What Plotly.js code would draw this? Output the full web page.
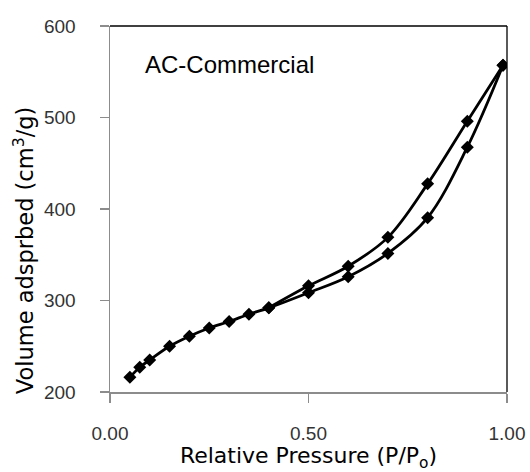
<!DOCTYPE html>
<html>
<head>
<meta charset="utf-8">
<script src="https://cdn.plot.ly/plotly-3.0.1.min.js"></script>
<style>html,body{margin:0;padding:0;background:#fff;}#chart{width:530px;height:472px;}</style>
</head>
<body>
<div id="chart"></div>
<script>
// Adsorption branch
const adsX = [0.05, 0.075, 0.1, 0.15, 0.2, 0.25, 0.3, 0.35, 0.4, 0.5, 0.6, 0.7, 0.8, 0.9, 0.99];
const adsY = [216, 227, 235, 250, 261, 270, 277, 285, 292, 308.5, 326, 351.5, 390.5, 467.5, 557];
// Desorption branch
const desX = [0.99, 0.9, 0.8, 0.7, 0.6, 0.5, 0.4];
const desY = [557, 496, 427.5, 369, 337.5, 316, 292];
const xTickVals = [0, 0.5, 1];
const xTickText = ["0.00", "0.50", "1.00"];
const yTickVals = [200, 300, 400, 500, 600];
const label = "AC-Commercial";
const yTitle = "Volume adsprbed (cm<sup>3</sup>/g)";
const xTitle = "Relative Pressure (P/P<sub>o</sub>)";

const common = {
  mode: 'lines+markers',
  line: {color: '#000', width: 2.8, shape: 'spline', smoothing: 1},
  marker: {symbol: 'diamond', size: 10, color: '#000'},
  showlegend: false,
  hoverinfo: 'skip'
};

const traces = [
  Object.assign({x: adsX, y: adsY, name: 'Adsorption'}, common),
  Object.assign({x: desX, y: desY, name: 'Desorption'}, common)
];

const font = 'Liberation Sans, Arial, sans-serif';
const titleFont = 'DejaVu Sans, sans-serif';

const layout = {
  width: 530, height: 472,
  margin: {l: 110, r: 23, t: 26, b: 80, pad: 0},
  paper_bgcolor: '#fff', plot_bgcolor: '#fff',
  font: {family: font, color: '#000'},
  xaxis: {
    range: [0, 1], tickvals: xTickVals, ticktext: xTickText,
    showgrid: false, zeroline: false,
    showline: true, linecolor: '#8c8c8c', linewidth: 1.5,
    ticks: 'outside', ticklen: 9, tickcolor: '#8c8c8c', tickwidth: 1.5,
    tickfont: {family: font, size: 19, color: '#333'},
    ticklabelstandoff: 15,
    title: {text: xTitle, font: {family: titleFont, size: 22, color: '#000'}, standoff: 1},
    automargin: false
  },
  yaxis: {
    range: [200, 600], tickvals: yTickVals,
    showgrid: false, zeroline: false,
    showline: true, linecolor: '#8c8c8c', linewidth: 1.5,
    ticks: 'outside', ticklen: 9, tickcolor: '#8c8c8c', tickwidth: 1.5,
    tickfont: {family: font, size: 19, color: '#333'},
    ticklabelstandoff: 20,
    automargin: false
  },
  shapes: [
    {type: 'line', xref: 'paper', yref: 'paper', x0: 0, x1: 1, y0: 1, y1: 1, line: {color: '#000', width: 1.3}},
    {type: 'line', xref: 'paper', yref: 'paper', x0: 1, x1: 1, y0: 0, y1: 1, line: {color: '#000', width: 1.3}}
  ],
  annotations: [
    {text: label, xref: 'paper', yref: 'paper', x: 0.083, y: 0.895, xanchor: 'left', yanchor: 'middle',
     showarrow: false, font: {family: font, size: 24, color: '#000'}},
    {text: yTitle, xref: 'paper', yref: 'paper', x: -0.219, y: 0.385, xanchor: 'center', yanchor: 'middle',
     textangle: -90, showarrow: false, font: {family: titleFont, size: 22.5, color: '#000'}}
  ]
};

Plotly.newPlot('chart', traces, layout, {displayModeBar: false, staticPlot: true});
</script>
</body>
</html>
